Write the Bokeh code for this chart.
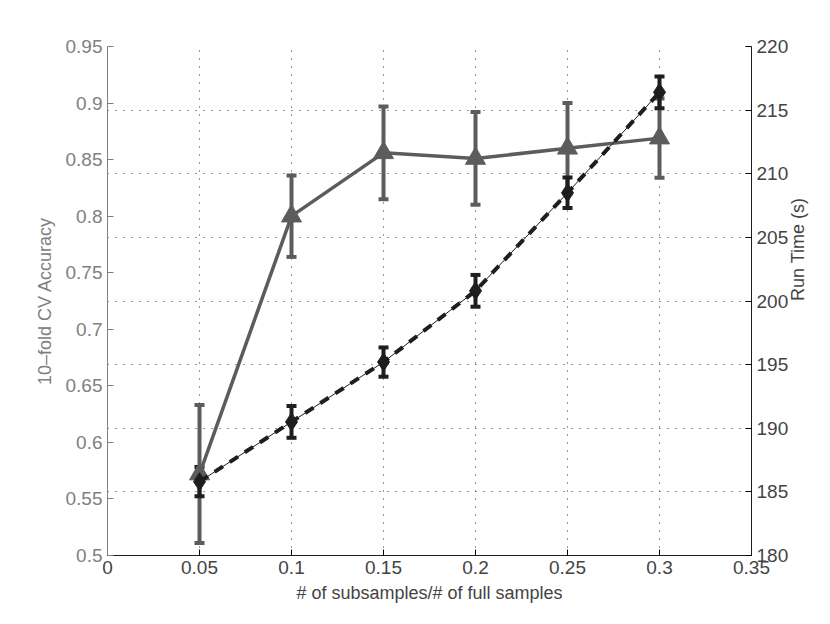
import math
from bokeh.plotting import figure
from bokeh.models import (Range1d, LinearAxis, FixedTicker, CustomJSTickFormatter,
                          Grid, Whisker, TeeHead, ColumnDataSource)
from bokeh.embed import file_html
from bokeh.resources import INLINE

# ---- data ----
fraction = [0.05, 0.10, 0.15, 0.20, 0.25, 0.30]
accuracy = [0.572, 0.800, 0.856, 0.851, 0.860, 0.869]
accuracy_err = [0.061, 0.036, 0.041, 0.041, 0.040, 0.035]
run_time = [185.8, 190.5, 195.2, 200.8, 208.5, 216.4]
run_time_err = [1.15, 1.25, 1.15, 1.25, 1.2, 1.25]

x_ticks = [0, 0.05, 0.10, 0.15, 0.20, 0.25, 0.30, 0.35]
acc_ticks = [0.5, 0.55, 0.6, 0.65, 0.7, 0.75, 0.8, 0.85, 0.9, 0.95]
rt_ticks = [180, 185, 190, 195, 200, 205, 210, 215, 220]
grid_x_ticks = [0.05, 0.10, 0.15, 0.20, 0.25, 0.30]

FONT = "Liberation Sans"
GRAY_AX = "#808080"
GRAY_LINE = "#5c5c5c"
BLACK = "#1e1e1e"

p = figure(frame_width=644, frame_height=509, output_backend="svg", toolbar_location=None,
           x_range=Range1d(0, 0.35), y_range=Range1d(0.5, 0.95),
           min_border_left=107, min_border_right=62, min_border_top=46, min_border_bottom=50,
           background_fill_color="white", border_fill_color="white")
p.outline_line_color = None
p.extra_y_ranges = {"rt": Range1d(180, 220)}

fmt = CustomJSTickFormatter(code="var s = tick.toFixed(2); if (s.indexOf('.')>=0){s = s.replace(/0+$/,'').replace(/\\.$/,'');} return s;")

# x axis
xa = p.xaxis[0]
xa.ticker = FixedTicker(ticks=x_ticks)
xa.formatter = fmt
xa.axis_label = "# of subsamples/# of full samples"

# left axis
ya = p.yaxis[0]
ya.ticker = FixedTicker(ticks=acc_ticks)
ya.formatter = fmt
ya.axis_label = "10\u2013fold CV Accuracy"
ya.axis_line_color = GRAY_AX
ya.major_tick_line_color = GRAY_AX
ya.major_label_text_color = GRAY_AX
ya.axis_label_text_color = GRAY_AX

# right axis
ra = LinearAxis(y_range_name="rt", ticker=FixedTicker(ticks=rt_ticks), axis_label="Run Time (s)")
if hasattr(ra, "axis_label_orientation"):
    ra.axis_label_orientation = math.pi / 2
p.add_layout(ra, "right")

for ax in (xa, ya, ra):
    ax.major_tick_in = 6
    ax.major_tick_out = 0
    ax.minor_tick_line_color = None
    ax.major_label_text_font = FONT
    ax.major_label_text_font_size = "19px"
    ax.axis_label_text_font = FONT
    ax.axis_label_text_font_size = "18px"
    ax.axis_label_text_font_style = "normal"
    ax.major_label_standoff = 5
    ax.axis_line_width = 1
xa.axis_line_color = BLACK
ra.axis_line_color = BLACK
xa.axis_label_standoff = 6
ya.axis_label_standoff = 8
ra.axis_label_standoff = 7

# grids
p.xgrid.ticker = FixedTicker(ticks=grid_x_ticks)
p.ygrid.visible = False
p.xgrid.grid_line_color = "#333333"
p.xgrid.grid_line_dash = "1 7"
p.xgrid.grid_line_width = 1
hg = Grid(dimension=1, ticker=FixedTicker(ticks=rt_ticks), y_range_name="rt",
          grid_line_color="#333333", grid_line_dash="1 7", grid_line_width=1)
p.add_layout(hg)

# accuracy series
acc_src = ColumnDataSource(dict(x=fraction, y=accuracy,
                                lo=[a - e for a, e in zip(accuracy, accuracy_err)],
                                hi=[a + e for a, e in zip(accuracy, accuracy_err)]))
p.add_layout(Whisker(source=acc_src, base="x", lower="lo", upper="hi", dimension="height",
                     line_color=GRAY_LINE, line_width=4,
                     upper_head=TeeHead(size=10, line_color=GRAY_LINE, line_width=4),
                     lower_head=TeeHead(size=10, line_color=GRAY_LINE, line_width=4)))
p.line("x", "y", source=acc_src, line_color=GRAY_LINE, line_width=3.5)
p.scatter("x", "y", source=acc_src, marker="triangle", size=20,
          fill_color=GRAY_LINE, line_color=GRAY_LINE)

# run time series
rt_src = ColumnDataSource(dict(x=fraction, y=run_time,
                               lo=[a - e for a, e in zip(run_time, run_time_err)],
                               hi=[a + e for a, e in zip(run_time, run_time_err)]))
p.add_layout(Whisker(source=rt_src, base="x", lower="lo", upper="hi", dimension="height",
                     y_range_name="rt", line_color=BLACK, line_width=4,
                     upper_head=TeeHead(size=10, line_color=BLACK, line_width=4),
                     lower_head=TeeHead(size=10, line_color=BLACK, line_width=4)))
p.line("x", "y", source=rt_src, y_range_name="rt", line_color=BLACK, line_width=1)
p.line("x", "y", source=rt_src, y_range_name="rt", line_color=BLACK, line_width=4,
       line_dash="10 8")
p.scatter("x", "y", source=rt_src, y_range_name="rt", marker="diamond", size=18,
          fill_color=BLACK, line_color=BLACK)

open("out.html", "w").write(file_html(p, INLINE))
